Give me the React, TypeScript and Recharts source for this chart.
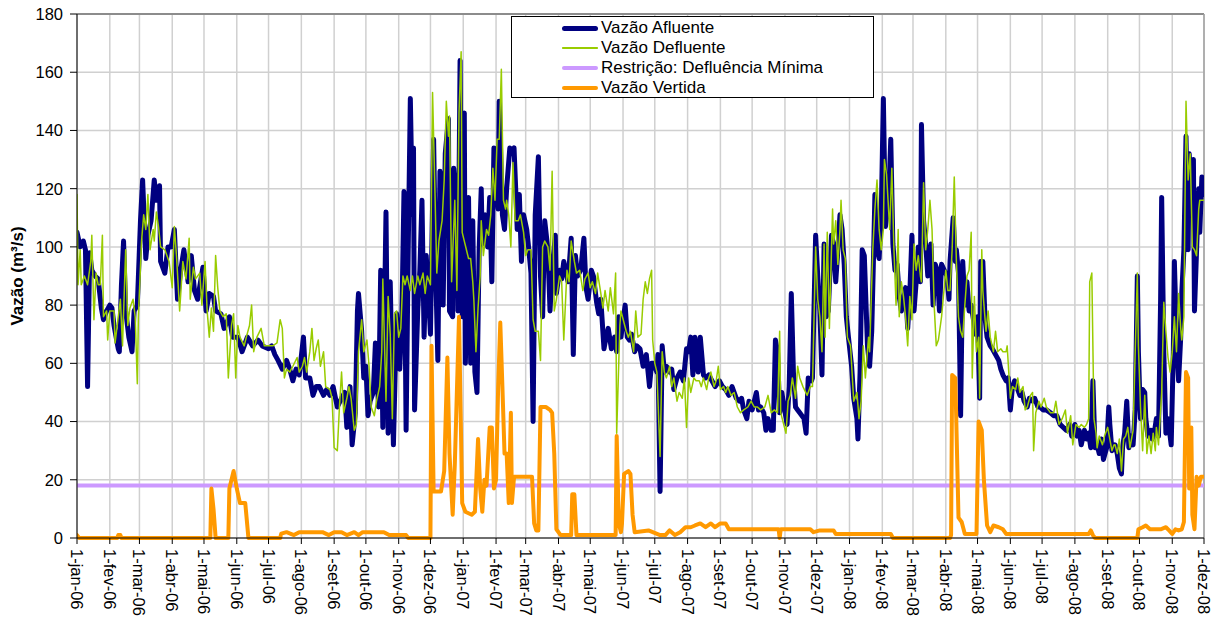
import { LineChart, Line, XAxis, YAxis, CartesianGrid, Legend, ReferenceLine } from 'recharts'

const FONT = '"Liberation Sans", Arial, sans-serif'

// dias desde 1-jan-06
const monthDays = [
  0, 31, 59, 90, 120, 151, 181, 212, 243, 273, 304, 334,
  365, 396, 424, 455, 485, 516, 546, 577, 608, 638, 669, 699,
  730, 761, 790, 821, 851, 882, 912, 943, 974, 1004, 1035, 1065
]
const monthLabels = [
  '1-jan-06', '1-fev-06', '1-mar-06', '1-abr-06', '1-mai-06', '1-jun-06', '1-jul-06', '1-ago-06', '1-set-06', '1-out-06', '1-nov-06', '1-dez-06',
  '1-jan-07', '1-fev-07', '1-mar-07', '1-abr-07', '1-mai-07', '1-jun-07', '1-jul-07', '1-ago-07', '1-set-07', '1-out-07', '1-nov-07', '1-dez-07',
  '1-jan-08', '1-fev-08', '1-mar-08', '1-abr-08', '1-mai-08', '1-jun-08', '1-jul-08', '1-ago-08', '1-set-08', '1-out-08', '1-nov-08', '1-dez-08'
]
const yTicks = [0, 20, 40, 60, 80, 100, 120, 140, 160, 180]

const afluenteDays = [
  0, 3, 6, 8, 10, 12, 14, 17, 20, 23, 25, 28, 31, 33, 35, 39, 40, 42, 44, 46, 49, 52, 54, 57, 60, 62, 65, 67, 70, 73, 75, 78, 79, 83, 86, 89, 92, 95, 98, 101, 105, 108, 111, 114, 119, 122, 125, 129, 131, 136, 139, 144, 147, 152, 156, 161, 166, 171, 175, 181,
  184, 187, 190, 194, 198, 201, 204, 207, 210, 214, 216, 220, 223, 226, 229, 233, 236, 239, 242, 246, 250, 253, 255, 258, 260, 263, 265, 266, 269, 271, 273, 275, 277, 280, 282, 285, 287, 289, 292, 294, 296, 299, 302, 305, 307, 309, 311, 313, 315, 317, 318, 319, 322, 324, 326, 328, 330, 332, 334, 337, 339, 341, 343, 346, 348, 351, 352,
  355, 356, 359, 360, 362, 364, 366, 367, 370, 372, 374, 376, 378, 380, 382, 383, 386, 388, 390, 392, 394, 396, 398, 399, 402, 404, 406, 409, 411, 413, 415, 416, 418, 420, 422, 425, 427, 429, 431, 433, 436, 438, 440, 442, 445, 447, 449, 452, 453, 456, 458, 460, 464, 467, 469, 471, 473, 476, 479, 481, 483, 486, 488, 491, 493, 495, 498, 500, 502, 505, 508, 510, 512, 514,
  518, 520, 522, 524, 527, 529, 532, 535, 538, 541, 543, 545, 548, 549, 551, 553, 555, 557, 560, 562, 564, 567, 570, 573, 576, 578, 580, 582, 584, 587, 589, 592, 594, 597, 600, 603, 607, 610, 613, 616, 619, 623, 626, 628, 630, 633, 635, 638, 640, 642, 644, 646, 649, 651, 653, 656, 658, 660, 662, 664, 666,
  671, 673, 675, 677, 679, 681, 683, 687, 689, 691, 694, 695, 698, 700, 702, 704, 706, 708, 710, 713, 715, 717, 719, 721, 723, 725, 727, 729, 732, 734, 737, 738, 740, 742, 744, 747, 749, 751, 753, 754, 756, 758, 760, 762, 764, 767, 769, 771, 773, 775, 777, 779, 781, 783, 785, 787, 789, 791, 793, 795, 797, 798, 800, 802, 804, 807, 809, 811, 813, 815, 817,
  822, 824, 825, 828, 830, 831, 833, 835, 837, 839, 841, 843, 845, 848, 849, 851, 853, 854, 856, 858, 860, 863, 865, 868, 871, 873, 875, 878, 880, 882, 884, 886, 888, 891, 893, 895, 898, 900, 903, 905, 908, 910, 913, 916, 920, 923, 926, 929, 932, 935, 938, 940, 943, 945, 947,
  949, 952, 954, 956, 958, 960, 962, 964, 966, 968, 970, 973, 975, 976, 978, 981, 983, 985, 987, 988, 990, 992, 994, 996, 998, 1000, 1002, 1003, 1005, 1007, 1009, 1010, 1012, 1015, 1016, 1018, 1020, 1022, 1024, 1025, 1027, 1029, 1031, 1033, 1034, 1036, 1037, 1039, 1041, 1043, 1044, 1046, 1048, 1050, 1051, 1053, 1055, 1056, 1058, 1060, 1061, 1063, 1065
]
const afluenteValues = [
  105, 100, 102, 99, 52, 98, 92, 90, 89, 79, 75, 78, 80, 79, 73, 65, 64, 87, 102, 78, 69, 64, 78, 80, 109, 123, 96, 104, 109, 123, 116, 121, 95, 91, 100, 100, 106, 82, 92, 99, 88, 97, 85, 82, 93, 78, 84, 83, 78, 77, 72, 76, 69, 69, 64, 69, 66, 68, 66, 65,
  66, 63, 61, 58, 61, 58, 54, 58, 56, 69, 55, 55, 49, 52, 52, 49, 51, 49, 52, 45, 48, 50, 38, 52, 32, 43, 78, 84, 71, 55, 59, 42, 47, 50, 67, 45, 92, 38, 112, 36, 88, 32, 77, 58, 76, 119, 37, 99, 151, 111, 134, 44, 78, 92, 116, 69, 97, 85, 70, 137, 91, 61, 126, 80, 132, 144, 78,
  76, 127, 111, 78, 164, 76, 146, 60, 117, 60, 109, 57, 50, 99, 120, 101, 111, 100, 117, 88, 134, 123, 113, 150, 111, 106, 120, 134, 132, 134, 116, 106, 118, 95, 111, 106, 99, 91, 40, 111, 131, 90, 76, 109, 99, 78, 92, 104, 84, 92, 89, 95, 88, 103, 63, 97, 90, 92, 103, 86, 82, 92, 90, 81, 77, 82, 65, 69, 72, 65, 69, 64, 76, 69,
  80, 69, 68, 70, 64, 66, 65, 59, 63, 52, 60, 60, 57, 63, 16, 66, 57, 59, 57, 58, 51, 55, 57, 54, 65, 64, 69, 56, 69, 57, 69, 56, 55, 56, 54, 52, 54, 52, 51, 49, 52, 48, 47, 48, 44, 41, 47, 44, 47, 50, 44, 45, 43, 37, 41, 37, 37, 68, 64, 43, 50,
  39, 52, 84, 57, 45, 44, 43, 41, 36, 55, 54, 55, 104, 90, 78, 56, 101, 76, 78, 104, 101, 88, 99, 111, 106, 94, 76, 69, 59, 48, 41, 34, 57, 99, 97, 66, 59, 71, 101, 118, 99, 96, 111, 151, 107, 116, 137, 101, 92, 94, 83, 78, 82, 86, 72, 84, 104, 78, 88, 100, 88, 142, 109, 101, 90, 101, 80, 94, 92, 78, 94,
  90, 82, 95, 110, 95, 99, 91, 42, 95, 80, 88, 78, 80, 73, 70, 76, 48, 95, 95, 76, 69, 66, 65, 63, 61, 58, 56, 54, 55, 44, 52, 54, 52, 49, 50, 47, 45, 48, 47, 48, 45, 45, 44, 44, 43, 42, 42, 39, 38, 37, 39, 35, 39, 35, 37,
  32, 37, 34, 36, 31, 54, 31, 32, 29, 34, 27, 31, 45, 39, 30, 32, 29, 24, 22, 31, 36, 47, 31, 35, 32, 44, 90, 64, 41, 51, 50, 41, 35, 37, 34, 36, 41, 35, 82, 117, 64, 36, 41, 35, 32, 64, 95, 69, 54, 69, 84, 99, 138, 99, 132, 118, 130, 78, 99, 120, 105, 124, 118
]

const defluenteDays = [
  0, 1, 3, 4, 7, 10, 13, 14, 16, 18, 20, 22, 24, 25, 28, 29, 31, 35, 36, 39, 41, 43, 46, 48, 50, 53, 55, 57, 58, 61, 63, 65, 67, 69, 72, 73, 75, 77, 79, 83, 87, 90, 92, 94, 97, 100, 103, 106, 107, 110, 112, 116, 118, 121, 123, 125, 127, 129, 131, 133, 135, 138, 141, 143, 146, 148, 150, 152, 154, 158, 160, 163, 165, 167, 170, 174, 177, 181,
  185, 189, 192, 194, 196, 198, 201, 204, 208, 210, 213, 215, 217, 220, 222, 224, 226, 228, 230, 233, 235, 239, 241, 243, 246, 248, 250, 252, 255, 257, 259, 262, 264, 266, 269, 271, 274, 276, 278, 281, 283, 286, 288, 289, 292, 294, 296, 298, 300, 302, 304, 306, 308, 310, 312, 315, 317, 319, 322, 324, 327, 329, 331, 334, 336, 338, 340, 342, 345, 347, 349, 351, 352,
  354, 357, 359, 361, 363, 364, 366, 368, 370, 372, 374, 375, 377, 379, 381, 382, 384, 387, 389, 391, 393, 395, 397, 399, 401, 403, 405, 406, 408, 410, 412, 414, 417, 419, 422, 424, 426, 429, 431, 433, 436, 438, 440, 442, 445, 447, 449, 451, 453, 456, 458, 460, 463, 465, 467, 470, 472, 475, 478, 480, 483, 485, 487, 490, 492, 495, 497, 499, 502, 504, 507, 509, 510, 513, 514,
  519, 521, 523, 526, 528, 530, 533, 535, 537, 539, 541, 543, 544, 546, 548, 551, 553, 555, 557, 560, 562, 564, 567, 569, 572, 574, 576, 578, 580, 583, 585, 588, 590, 592, 595, 597, 599, 602, 604, 606, 608, 611, 613, 615, 618, 621, 624, 627, 630, 634, 637, 640, 643, 646, 650, 653, 656, 659, 662, 664, 665,
  670, 672, 674, 676, 679, 681, 683, 686, 690, 693, 695, 698, 700, 702, 704, 706, 707, 709, 711, 714, 715, 717, 719, 721, 722, 724, 726, 728, 731, 734, 737, 739, 741, 743, 745, 748, 749, 752, 754, 756, 758, 760, 762, 763, 765, 768, 770, 772, 774, 776, 777, 779, 781, 783, 785, 787, 789, 791, 793, 795, 797, 798, 800, 802, 804, 806, 808, 810, 812, 814, 817,
  821, 823, 825, 827, 829, 831, 833, 835, 837, 839, 841, 843, 845, 846, 848, 850, 852, 853, 855, 856, 859, 861, 863, 866, 868, 870, 873, 875, 878, 879, 882, 884, 887, 889, 891, 894, 896, 898, 901, 903, 904, 906, 909, 911, 914, 916, 920, 923, 925, 928, 931, 934, 936, 939, 941, 944, 947,
  949, 952, 954, 956, 957, 959, 961, 963, 964, 966, 969, 971, 974, 976, 978, 980, 981, 983, 985, 987, 989, 991, 993, 995, 997, 998, 1000, 1002, 1003, 1005, 1007, 1009, 1011, 1013, 1015, 1017, 1019, 1020, 1022, 1025, 1027, 1029, 1031, 1033, 1035, 1037, 1039, 1041, 1043, 1044, 1046, 1048, 1050, 1052, 1054, 1056, 1058, 1060, 1061, 1063, 1065
]
const defluenteValues = [
  118, 87, 99, 87, 90, 87, 95, 104, 75, 91, 87, 87, 104, 76, 78, 68, 78, 78, 67, 76, 82, 66, 99, 73, 79, 82, 76, 53, 76, 102, 111, 106, 118, 99, 106, 102, 112, 107, 100, 99, 95, 86, 107, 97, 78, 95, 89, 103, 82, 93, 89, 91, 80, 95, 78, 69, 79, 71, 97, 86, 78, 76, 77, 55, 73, 77, 55, 73, 69, 66, 69, 73, 80, 64, 69, 72, 66, 66,
  66, 67, 75, 72, 55, 58, 57, 59, 62, 57, 59, 62, 57, 64, 72, 61, 65, 68, 59, 64, 52, 51, 48, 31, 30, 45, 57, 43, 48, 52, 48, 37, 39, 64, 75, 64, 68, 59, 45, 42, 47, 52, 64, 89, 47, 83, 70, 41, 77, 78, 69, 72, 90, 87, 90, 85, 90, 84, 90, 87, 91, 84, 90, 87, 153, 123, 91, 102, 109, 123, 150, 138, 145,
  88, 116, 85, 146, 167, 105, 102, 99, 96, 96, 88, 82, 64, 79, 90, 109, 97, 106, 104, 111, 127, 116, 137, 137, 161, 116, 113, 116, 111, 100, 129, 109, 109, 111, 105, 97, 99, 99, 75, 71, 71, 61, 100, 102, 100, 92, 126, 78, 82, 90, 88, 68, 92, 88, 102, 95, 91, 92, 85, 89, 91, 86, 88, 84, 91, 84, 79, 85, 78, 86, 77, 91, 36, 73, 78,
  71, 69, 71, 64, 78, 69, 70, 82, 88, 84, 89, 92, 68, 60, 57, 28, 64, 57, 55, 59, 52, 55, 47, 50, 48, 55, 38, 55, 50, 55, 54, 54, 52, 55, 51, 55, 57, 52, 54, 59, 51, 52, 50, 52, 49, 50, 45, 43, 44, 45, 47, 45, 45, 44, 45, 49, 43, 44, 43, 71, 43,
  36, 47, 49, 55, 48, 59, 55, 52, 49, 52, 52, 100, 82, 76, 64, 101, 69, 105, 72, 113, 101, 109, 94, 106, 116, 99, 96, 69, 66, 47, 50, 41, 47, 66, 55, 69, 64, 99, 113, 123, 106, 99, 106, 130, 125, 106, 127, 99, 80, 106, 76, 88, 83, 76, 66, 83, 75, 101, 92, 97, 90, 88, 122, 99, 106, 116, 106, 80, 66, 68, 76,
  92, 85, 85, 99, 124, 95, 76, 71, 69, 80, 90, 92, 105, 55, 83, 64, 69, 48, 99, 85, 71, 78, 69, 64, 71, 64, 65, 64, 64, 66, 48, 52, 51, 55, 50, 52, 44, 45, 49, 50, 30, 43, 47, 45, 48, 45, 43, 43, 47, 39, 41, 44, 36, 42, 32, 39, 38,
  39, 38, 39, 41, 88, 91, 41, 36, 31, 35, 32, 35, 38, 34, 30, 32, 32, 29, 34, 23, 34, 35, 38, 31, 35, 37, 64, 91, 66, 45, 30, 49, 29, 35, 29, 36, 30, 38, 32, 50, 81, 71, 62, 57, 64, 76, 64, 84, 72, 68, 76, 150, 123, 132, 100, 99, 97, 113, 116, 116, 116
]

const restricaoDays = [0, 1065]
const restricaoValues = [18, 18]

const vertidaDays = [
  0, 2, 38, 39, 41, 42, 126, 127, 129, 131, 143, 144, 148, 151, 154, 159, 162,
  192, 193, 198, 205, 210, 225, 232, 238, 243, 250, 255, 262, 266, 270, 290, 295, 311, 313,
  334, 335, 337, 344, 347, 350, 352, 355, 357, 361, 364, 367, 373, 376, 379, 381, 383, 385, 387, 390, 392, 394, 396, 398, 400, 402, 404, 406, 408, 410, 411, 413, 430, 432, 434, 436, 438, 443, 447, 449, 451, 453, 457, 467, 468, 470, 472,
  509, 510, 512, 514, 515, 517, 521, 523, 525, 527, 540, 551, 556, 560, 565, 570, 575, 580, 584, 589, 594, 599, 603, 608, 613, 616, 663, 664, 665,
  673, 693, 696, 702, 715, 717, 769, 771, 825, 826, 827, 830, 833, 836, 839, 850, 852, 855, 857, 860, 863, 866, 871, 875, 878,
  956, 958, 960, 962, 1002, 1003, 1007, 1010, 1014, 1024, 1029, 1032, 1035, 1038, 1041, 1044, 1046, 1048, 1050, 1051, 1053, 1054, 1056, 1058, 1060, 1062, 1065
]
const vertidaValues = [
  1, 0, 0, 1, 1, 0, 0, 17, 10, 0, 0, 17, 23, 17, 12, 12, 0,
  0, 1.5, 2, 1, 2, 2, 2, 1, 2, 2, 1, 2, 1, 2, 2, 1, 1, 0,
  0, 66, 16, 16, 23, 62, 29, 8, 25, 76, 12, 9, 8, 9, 34, 17, 9, 20, 18, 38, 38, 17, 20, 52, 74, 52, 29, 29, 12, 43, 12, 21, 21, 5, 2.6, 2.6, 45, 45, 44, 43, 29, 3, 1, 1, 15, 15, 1,
  1, 35, 5, 2, 5, 22, 23, 22, 8, 2, 2.6, 1, 1, 2.6, 1, 2, 3.7, 3.7, 4.3, 5, 3.7, 5, 3.7, 5, 5, 3, 3, 0, 3,
  3, 3, 2, 2.6, 2.6, 1.4, 1.4, 0, 0, 1, 56, 55, 7, 5.5, 1.4, 1.4, 40, 37, 20, 4.3, 2, 4.3, 3.7, 3, 1.4,
  1.4, 2.6, 1, 0, 0, 3, 3.7, 4.3, 3, 3, 3.7, 2.6, 1.4, 3, 2.6, 3, 5.5, 57, 55, 17, 38, 8, 3, 21, 18, 21, 21
]

const toPoints = (days: number[], values: number[]) =>
  days.map((day, i) => ({ day, v: values[i] }))

const series = [
  { key: 'afluente', name: 'Vazão Afluente', color: '#000080', width: 5, data: toPoints(afluenteDays, afluenteValues) },
  { key: 'defluente', name: 'Vazão Defluente', color: '#99CC00', width: 1.5, data: toPoints(defluenteDays, defluenteValues) },
  { key: 'restricao', name: 'Restrição: Defluência Mínima', color: '#CC99FF', width: 4, data: toPoints(restricaoDays, restricaoValues) },
  { key: 'vertida', name: 'Vazão Vertida', color: '#FF9900', width: 4, data: toPoints(vertidaDays, vertidaValues) }
]

// ordem de desenho: restrição por baixo, vertida por cima
const drawOrder = ['restricao', 'afluente', 'defluente', 'vertida']

const MonthTick = ({ x, y, payload }: any) => {
  const idx = monthDays.indexOf(payload.value)
  return (
    <g transform={`translate(${x},${y})`}>
      <text
        transform="rotate(90)"
        x={3}
        y={0}
        dy="0.36em"
        textAnchor="start"
        fontSize={16.5}
        fontFamily={FONT}
        fill="#000"
      >
        {monthLabels[idx]}
      </text>
    </g>
  )
}

const renderLegend = () => (
  <div
    style={{
      width: 363,
      height: 82,
      boxSizing: 'border-box',
      border: '1px solid #000',
      background: '#fff',
      paddingTop: 1,
      fontFamily: FONT,
      fontSize: 17,
      color: '#000'
    }}
  >
    {series.map((s) => (
      <div key={s.key} style={{ display: 'flex', alignItems: 'center', height: 20 }}>
        <span
          style={{
            display: 'inline-block',
            marginLeft: 50,
            width: 36,
            height: s.width,
            borderRadius: s.width / 2,
            background: s.color
          }}
        />
        <span style={{ marginLeft: 3, lineHeight: '20px' }}>{s.name}</span>
      </div>
    ))}
  </div>
)

const App = () => {
  return (
    <div style={{ position: 'absolute', left: 0, top: 0, background: '#fff' }}>
      <LineChart width={1214} height={618} margin={{ top: 14, right: 10, left: 0, bottom: 0 }}>
        <CartesianGrid stroke="#d0d0d0" strokeWidth={1.5} />
        <XAxis
          dataKey="day"
          type="number"
          domain={[0, 1065]}
          ticks={monthDays}
          interval={0}
          allowDataOverflow
          height={80}
          tick={<MonthTick />}
          tickSize={6}
          tickMargin={2}
          stroke="#000"
          tickLine={{ stroke: '#000' }}
        />
        <YAxis
          type="number"
          domain={[0, 180]}
          ticks={yTicks}
          interval={0}
          width={77}
          tickSize={7}
          tickMargin={7}
          stroke="#000"
          tick={{ fontSize: 16.5, fontFamily: FONT, fill: '#000' }}
          label={{
            content: () => (
              <text
                x={17}
                y={276}
                transform="rotate(-90, 17, 276)"
                textAnchor="middle"
                dominantBaseline="central"
                fontSize={17}
                fontWeight="bold"
                fontFamily={FONT}
                fill="#000"
              >
                Vazão (m³/s)
              </text>
            )
          }}
        />
        <ReferenceLine y={180} stroke="#8c8c8c" strokeWidth={2} />
        <ReferenceLine x={1065} stroke="#a0a0a0" strokeWidth={1.5} />
        {drawOrder.map((k) => {
          const s = series.find((item) => item.key === k)!
          return (
            <Line
              key={s.key}
              data={s.data}
              dataKey="v"
              name={s.name}
              type="linear"
              stroke={s.color}
              strokeWidth={s.width}
              strokeLinejoin="round"
              strokeLinecap="round"
              dot={false}
              activeDot={false}
              isAnimationActive={false}
            />
          )
        })}
        <Legend
          layout="horizontal"
          verticalAlign="middle"
          align="center"
          content={renderLegend}
          wrapperStyle={{ top: 16, left: 511, width: 363, height: 82, bottom: 'auto', right: 'auto' }}
        />
      </LineChart>
    </div>
  )
}

export default App
